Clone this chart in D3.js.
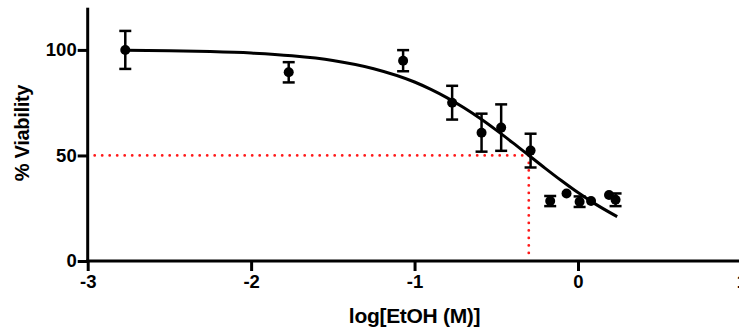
<!DOCTYPE html>
<html>
<head>
<meta charset="utf-8">
<script src="https://cdn.jsdelivr.net/npm/d3@7"></script>
<style>
  body { margin: 0; background: #fff; }
  svg { display: block; }
  text { font-family: "Liberation Sans", Arial, sans-serif; font-weight: bold; fill: #000; }
</style>
</head>
<body>
<div id="chart"></div>
<script>
// measured points: log concentration, mean % viability, error (SD)
var logConc   = [-2.77, -1.77, -1.07, -0.77, -0.59, -0.47, -0.29, -0.17, -0.07, 0.01, 0.08, 0.19, 0.23];
var viability = [100, 89.4, 94.9, 75.0, 60.8, 63.2, 52.3, 28.4, 32.0, 28.1, 28.4, 31.3, 29.0];
var errors    = [9, 4.8, 5, 8, 9, 11, 8, 2.4, 0, 2.5, 0, 0, 3];

// fitted curve
var fitX = [-2.77, -2.5, -2.25, -2.0, -1.75, -1.5, -1.25, -1.0, -0.9, -0.8, -0.7, -0.6, -0.5, -0.4, -0.3, -0.2, -0.1, 0.0, 0.1, 0.24];
var fitY = [99.8, 99.6, 99.2, 98.5, 97.2, 95.0, 91.1, 84.8, 81.3, 77.3, 72.7, 67.6, 62.0, 56.1, 50.0, 43.9, 38.0, 32.4, 27.3, 21.0];

// IC50 guide
var ic50 = -0.301;
var halfLevel = 50;

var xTicks = [-3, -2, -1, 0, 1];
var yTicks = [0, 50, 100];

var width = 739, height = 329;
var margin = {left: 87.7, top: 7.7, bottom: 68};

var svg = d3.select("#chart").append("svg")
  .attr("width", width)
  .attr("height", height);

var xScale = d3.scaleLinear().domain([-3, 1]).range([margin.left, 741.4]);
var yScale = d3.scaleLinear().domain([0, 120]).range([height - margin.bottom, margin.top]);

var xAxis = d3.axisBottom(xScale).tickValues(xTicks).tickSize(10).tickSizeOuter(0).tickPadding(4)
  .tickFormat(function(d) { return d3.format("d")(d).replace("−", "-"); });
var yAxis = d3.axisLeft(yScale).tickValues(yTicks).tickSize(10).tickSizeOuter(0).tickPadding(1);

var gx = svg.append("g")
  .attr("transform", "translate(0," + yScale(0) + ")")
  .call(xAxis);
var gy = svg.append("g")
  .attr("transform", "translate(" + xScale(-3) + ",0)")
  .call(yAxis);

[gx, gy].forEach(function(g) {
  g.select(".domain").remove();
  g.selectAll(".tick line").attr("stroke", "#000").attr("stroke-width", 3);
  g.selectAll(".tick text").attr("font-size", 18.5);
});

// axis lines drawn thick
svg.append("line")
  .attr("x1", xScale(-3) - 1.5).attr("x2", width)
  .attr("y1", yScale(0)).attr("y2", yScale(0))
  .attr("stroke", "#000").attr("stroke-width", 3);
svg.append("line")
  .attr("x1", xScale(-3)).attr("x2", xScale(-3))
  .attr("y1", yScale(120)).attr("y2", yScale(0) + 1.5)
  .attr("stroke", "#000").attr("stroke-width", 3);

// red dotted IC50 guides
svg.append("line")
  .attr("x1", xScale(-3) + 7).attr("x2", xScale(ic50))
  .attr("y1", yScale(halfLevel)).attr("y2", yScale(halfLevel))
  .attr("stroke", "#ff1a1a").attr("stroke-width", 2.8)
  .attr("stroke-linecap", "round").attr("stroke-dasharray", "0 7.5");
svg.append("line")
  .attr("x1", xScale(ic50)).attr("x2", xScale(ic50))
  .attr("y1", yScale(halfLevel)).attr("y2", yScale(0) - 4)
  .attr("stroke", "#ff1a1a").attr("stroke-width", 2.8)
  .attr("stroke-linecap", "round").attr("stroke-dasharray", "0 7.5");

// fit curve
var fit = fitX.map(function(d, i) { return [d, fitY[i]]; });
var line = d3.line()
  .x(function(d) { return xScale(d[0]); })
  .y(function(d) { return yScale(d[1]); })
  .curve(d3.curveMonotoneX);
svg.append("path")
  .datum(fit)
  .attr("fill", "none")
  .attr("stroke", "#000")
  .attr("stroke-width", 3)
  .attr("d", line);

// points with error bars
var data = logConc.map(function(d, i) { return {x: d, y: viability[i], e: errors[i]}; });

var bars = svg.selectAll(".err")
  .data(data.filter(function(d) { return d.e > 0; }))
  .enter().append("g")
  .attr("class", "err")
  .attr("stroke", "#000")
  .attr("stroke-width", 2.5);
bars.append("line")
  .attr("x1", function(d) { return xScale(d.x); })
  .attr("x2", function(d) { return xScale(d.x); })
  .attr("y1", function(d) { return yScale(d.y + d.e); })
  .attr("y2", function(d) { return yScale(d.y - d.e); });
bars.append("line")
  .attr("x1", function(d) { return xScale(d.x) - 6; })
  .attr("x2", function(d) { return xScale(d.x) + 6; })
  .attr("y1", function(d) { return yScale(d.y + d.e); })
  .attr("y2", function(d) { return yScale(d.y + d.e); });
bars.append("line")
  .attr("x1", function(d) { return xScale(d.x) - 6; })
  .attr("x2", function(d) { return xScale(d.x) + 6; })
  .attr("y1", function(d) { return yScale(d.y - d.e); })
  .attr("y2", function(d) { return yScale(d.y - d.e); });

svg.selectAll(".dot")
  .data(data)
  .enter().append("circle")
  .attr("class", "dot")
  .attr("cx", function(d) { return xScale(d.x); })
  .attr("cy", function(d) { return yScale(d.y); })
  .attr("r", 5)
  .attr("fill", "#000");

// axis titles
svg.append("text")
  .attr("x", (xScale(-3) + xScale(1)) / 2)
  .attr("y", 323)
  .attr("text-anchor", "middle")
  .attr("font-size", 21)
  .style("letter-spacing", "-0.3px")
  .text("log[EtOH (M)]");

svg.append("text")
  .attr("transform", "translate(29," + 133 + ") rotate(-90)")
  .attr("text-anchor", "middle")
  .attr("font-size", 20)
  .style("letter-spacing", "-0.3px")
  .text("% Viability");
</script>
</body>
</html>
